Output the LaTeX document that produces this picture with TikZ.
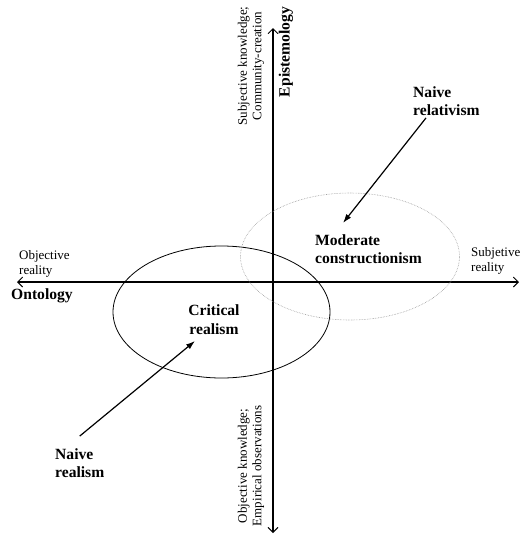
\documentclass[tikz,border=0pt]{standalone}
\usepackage{fontspec}
\setmainfont{Liberation Serif}
\usetikzlibrary{arrows.meta,shapes.geometric}
\begin{document}
\begin{tikzpicture}[x=1pt,y=-1pt,
  lbl/.style={inner sep=0pt, font=\fontsize{13}{14.5}\selectfont},
  bld/.style={inner sep=0pt, font=\fontsize{15.6}{18.5}\selectfont\bfseries},
  axis/.style={line width=1.1pt, -{Straight Barb[length=5pt,width=10pt,line width=0.9pt]}},
  pointer/.style={line width=1.2pt, -{Latex[length=9pt,width=6pt]}},
  oval/.style={ellipse, inner sep=0pt, draw},
]
\useasboundingbox (0,0) rectangle (521,539);

% axes
\coordinate (ax-top) at (273,28);
\coordinate (ax-bot) at (273,533);
\coordinate (ax-left) at (17,282);
\coordinate (ax-right) at (519,282);
\coordinate (centre) at (273,282);
\draw[axis] (centre) -- (ax-top);
\draw[axis] (centre) -- (ax-bot);
\draw[axis] (centre) -- (ax-left);
\draw[axis] (centre) -- (ax-right);

% axis labels
\node[lbl, align=left, anchor=west] (objreal) at (19,264) {Objective\\reality};
\node[bld, anchor=west] (onto) at (11,296) {Ontology};
\node[lbl, align=left, anchor=west] (subjreal) at (471,261) {Subjetive\\reality};
\node[lbl, rotate=90, align=center] (subjknow) at (251,66) {Subjective knowledge;\\Community-creation};
\node[bld, rotate=90] (epist) at (286,52) {Epistemology};
\node[lbl, rotate=90, align=center] (objknow) at (251,466) {Objective knowledge;\\Empirical observations};

% positions
\node[oval, line width=0.8pt, minimum width=217pt, minimum height=132pt] (critoval) at (221.5,312) {};
\node[oval, draw=gray!80, densely dotted, line width=0.6pt, minimum width=219pt, minimum height=127pt] (modoval) at (350,256.5) {};

\node[bld, align=left, anchor=west] (modcon) at (315,249) {Moderate\\constructionism};
\node[bld, align=center] (critreal) at (214,319.5) {Critical\\realism};
\node[bld, align=left, anchor=west] (naiverel) at (413,101) {Naive\\relativism};
\node[bld, align=left, anchor=west] (naivereal) at (55,463) {Naive\\realism};

% pointers
\coordinate (relhead) at (343,223);
\coordinate (reahead) at (195,341);
\draw[pointer] (naiverel.south west) ++(13,2) -- (relhead);
\draw[pointer] (naivereal.north) ++(0,-12) -- (reahead);
\end{tikzpicture}
\end{document}
